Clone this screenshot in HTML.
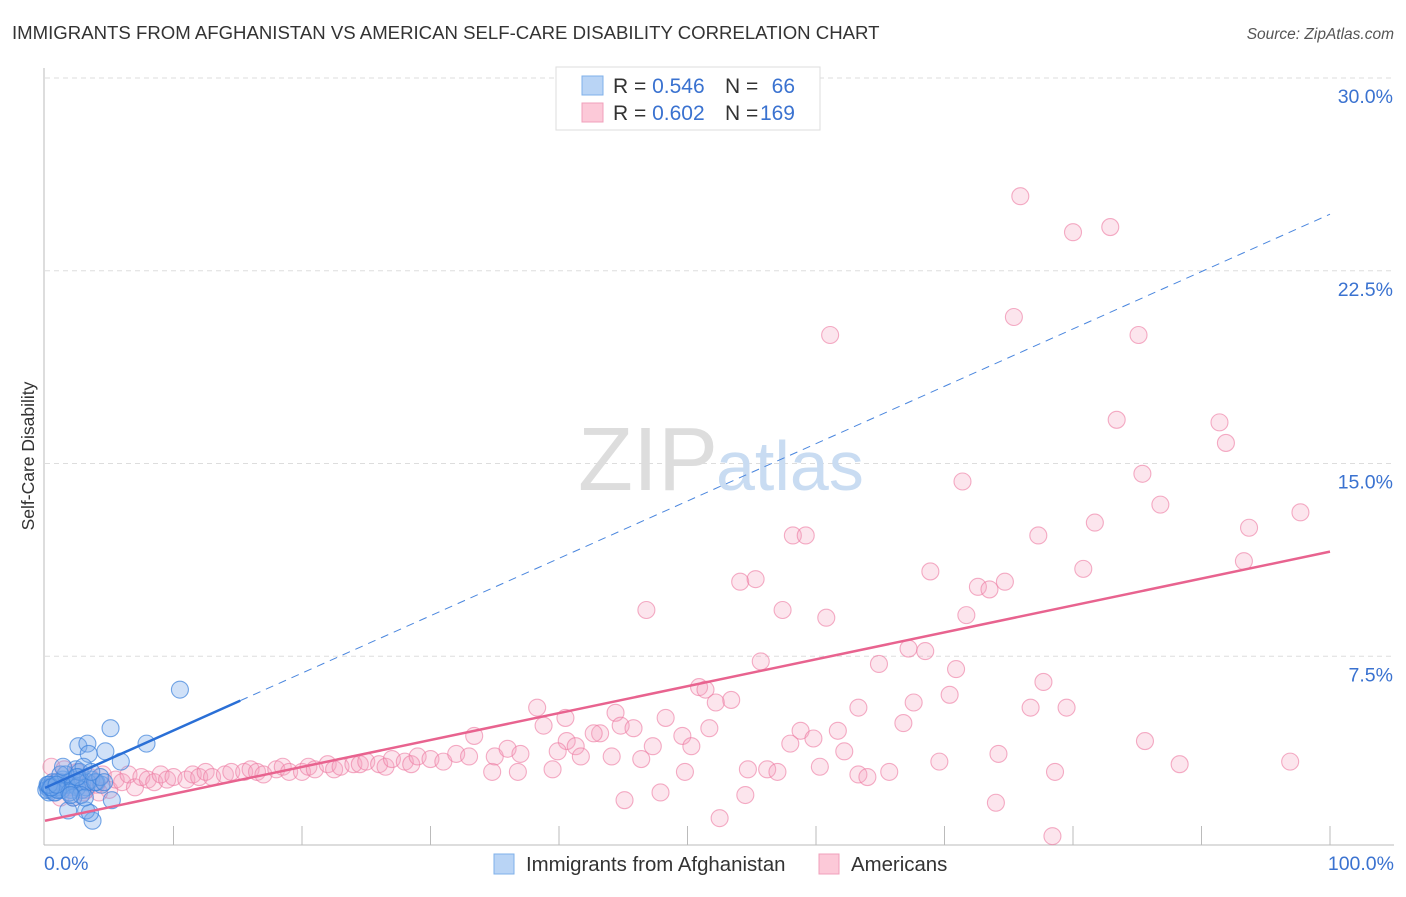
<!DOCTYPE html>
<html><head><meta charset="utf-8"><style>
body{margin:0;background:#fff;font-family:"Liberation Sans",sans-serif;}
svg text{font-family:"Liberation Sans",sans-serif;}
</style></head><body>
<svg id="chart" width="1406" height="892" xmlns="http://www.w3.org/2000/svg">
<text x="12" y="39" font-size="18.6" fill="#333">IMMIGRANTS FROM AFGHANISTAN VS AMERICAN SELF-CARE DISABILITY CORRELATION CHART</text>
<text x="1394" y="39" font-size="15.5" fill="#555" font-style="italic" text-anchor="end">Source: ZipAtlas.com</text>
<text transform="translate(34,456) rotate(-90)" font-size="17.5" fill="#333" text-anchor="middle">Self-Care Disability</text>
<g id="grid"></g>
<g id="axes"></g>
<text x="718" y="490" font-size="90" fill="#ddd" font-family="Liberation Serif" text-anchor="end">ZIP</text>
<text x="716" y="490" font-size="70" fill="#c9dcf2">atlas</text>
<g id="pink"></g>
<g id="blue"></g>
<g id="trends"></g>
<g>
<rect x="556" y="67" width="264" height="63" fill="#fff" stroke="#ddd"/>
<rect x="582" y="76" width="21" height="19" fill="#b9d4f5" stroke="#7fb0ea"/>
<rect x="582" y="103" width="21" height="19" fill="#fcc9d8" stroke="#f0a0bb"/>
<text x="613" y="93" font-size="21" fill="#333">R = <tspan fill="#3a72d0">0.546</tspan></text>
<text x="725" y="93" font-size="21" fill="#333">N =</text>
<text x="795" y="93" font-size="21" fill="#3a72d0" text-anchor="end">66</text>
<text x="613" y="120" font-size="21" fill="#333">R = <tspan fill="#3a72d0">0.602</tspan></text>
<text x="725" y="120" font-size="21" fill="#333">N =</text>
<text x="795" y="120" font-size="21" fill="#3a72d0" text-anchor="end">169</text>
</g>
<g>
<rect x="494" y="854" width="20" height="20" fill="#b9d4f5" stroke="#7fb0ea"/>
<text x="526" y="871" font-size="20.4" fill="#333">Immigrants from Afghanistan</text>
<rect x="819" y="854" width="20" height="20" fill="#fcc9d8" stroke="#f0a0bb"/>
<text x="851" y="871" font-size="20.4" fill="#333">Americans</text>
</g>
</svg>
<script>
const yTicks=[7.5,15,22.5,30];
const yTickLabels=["7.5%","15.0%","22.5%","30.0%"];
const xTickCount=10;
const pinkX=[75.9,80.0,82.9,61.1,75.4,85.1,83.4,91.4,91.9,85.4,71.4,86.8,97.7,81.7,93.7,77.3,58.2,59.2,93.3,68.9,80.8,54.1,55.3,72.6,73.5,74.7,46.8,57.4,60.8,71.7,55.7,67.2,68.5,64.9,70.9,50.9,51.4,77.7,70.4,53.4,52.2,67.6,63.3,76.7,79.5,38.3,44.4,40.5,48.3,66.8,38.8,44.8,51.7,45.8,58.8,61.7,43.2,42.7,33.4,59.8,40.6,49.6,85.6,58.0,47.3,50.3,41.3,39.9,62.2,74.2,44.1,41.7,46.4,69.6,88.3,96.9,60.3,54.7,56.2,57.0,63.3,64.0,65.7,49.8,78.6,39.5,36.8,34.8,45.1,47.9,54.5,74.0,52.5,78.4,
0.5,1.0,1.5,2.0,2.5,3.0,3.5,4.0,4.5,5.0,5.5,6.0,6.5,7.0,7.5,8.0,8.5,9.0,9.5,10.0,11.0,11.5,12.0,12.5,13.0,14.0,14.5,15.5,16.0,16.5,17.0,18.0,18.5,19.0,20.0,20.5,21.0,22.0,22.5,23.0,24.0,24.5,25.0,26.0,26.5,27.0,28.0,28.5,29.0,30.0,31.0,32.0,33.0,35.0,36.0,37.0,1.2,2.2,3.2,4.2];
const pinkY=[25.4,24.0,24.2,20.0,20.7,20.0,16.7,16.6,15.8,14.6,14.3,13.4,13.1,12.7,12.5,12.2,12.2,12.2,11.2,10.8,10.9,10.4,10.5,10.2,10.1,10.4,9.3,9.3,9.0,9.1,7.3,7.8,7.7,7.2,7.0,6.3,6.2,6.5,6.0,5.8,5.7,5.7,5.5,5.5,5.5,5.5,5.3,5.1,5.1,4.9,4.8,4.8,4.7,4.7,4.6,4.6,4.5,4.5,4.4,4.3,4.2,4.4,4.2,4.1,4.0,4.0,4.0,3.8,3.8,3.7,3.6,3.6,3.5,3.4,3.3,3.4,3.2,3.1,3.1,3.0,2.9,2.8,3.0,3.0,3.0,3.1,3.0,3.0,1.9,2.2,2.1,1.8,1.2,0.5,
3.2,2.6,3.1,2.4,3.0,2.2,2.8,2.5,2.9,2.3,2.7,2.6,2.9,2.4,2.8,2.7,2.6,2.9,2.7,2.8,2.7,2.9,2.8,3.0,2.8,2.9,3.0,3.0,3.1,3.0,2.9,3.1,3.2,3.0,3.0,3.2,3.1,3.3,3.1,3.2,3.3,3.3,3.4,3.3,3.2,3.5,3.4,3.3,3.6,3.5,3.4,3.7,3.6,3.6,3.9,3.7,2.0,2.0,2.3,2.2];
const blueX=[10.5,5.1,7.9,2.6,3.3,4.7,3.4,5.9,5.2,3.7,1.8,3.2,3.5,0.2,0.4,0.6,0.8,1.0,1.2,1.5,0.3,0.7,1.1,1.4,1.8,2.0,2.3,2.6,2.9,3.2,3.6,4.0,4.4,0.5,0.9,1.3,1.7,2.1,2.5,2.9,3.3,3.9,4.3,0.1,0.2,0.4,0.6,0.8,1.0,2.4,2.7,3.0,1.6,2.2,2.8,3.1,1.9,4.6,0.3,0.5,1.2,2.0,2.5,3.6,1.4,0.9];
const blueY=[6.2,4.7,4.1,4.0,4.1,3.8,3.7,3.4,1.9,1.1,1.5,1.5,1.4,2.4,2.3,2.5,2.4,2.3,2.6,2.5,2.2,2.2,2.4,2.7,2.6,2.3,2.5,2.8,2.6,2.4,2.7,2.6,2.5,2.4,2.6,2.3,2.5,2.7,2.4,2.3,2.6,2.6,2.8,2.3,2.5,2.4,2.6,2.2,2.3,3.1,3.0,3.2,2.9,2.0,2.1,2.0,2.2,2.6,2.5,2.4,2.9,2.1,2.8,3.0,3.2,2.5];
const pinkTrend=[1.1,11.57];
const blueTrend=[2.38,24.7];
const X=v=>45+v*12.85, Y=v=>849-v*25.7;
const NS="http://www.w3.org/2000/svg";
function mk(tag,attrs,parent){const e=document.createElementNS(NS,tag);for(const k in attrs)e.setAttribute(k,attrs[k]);parent.appendChild(e);return e;}
const grid=document.getElementById('grid'), axes=document.getElementById('axes');
yTicks.forEach((t,i)=>{
  const l=mk('line',{x1:45,x2:1394,y1:Y(t),y2:Y(t),stroke:'#ddd','stroke-dasharray':'5,4'},grid);
  
  
  const tx=mk('text',{x:1393,y:Y(t)+25,'font-size':19.5,fill:'#3a72d0','text-anchor':'end'},grid);
  tx.textContent=yTickLabels[i];
  
  
});
mk('line',{x1:44,x2:44,y1:68,y2:845,stroke:'#bbb'},axes);
mk('line',{x1:44,x2:1394,y1:845,y2:845,stroke:'#bbb'},axes);
for(let i=1;i<=xTickCount;i++){
  const t=mk('line',{x1:X(i*10),x2:X(i*10),y1:826,y2:845,stroke:'#bbb'},axes);
  
  
}
const xl0=mk('text',{x:44,y:870,'font-size':19.5,fill:'#3a72d0'},axes);xl0.textContent='0.0%';


const xl1=mk('text',{x:1394,y:870,'font-size':19.5,fill:'#3a72d0','text-anchor':'end'},axes);xl1.textContent='100.0%';


const pg=document.getElementById('pink');
pinkX.forEach((x,i)=>{
  const c=mk('circle',{cx:X(x),cy:Y(pinkY[i]),r:8.5,fill:'rgba(244,160,190,0.28)',stroke:'rgba(236,120,160,0.6)','stroke-width':1.1},pg);
  
  
});
const bg=document.getElementById('blue');
blueX.forEach((x,i)=>{
  const c=mk('circle',{cx:X(x),cy:Y(blueY[i]),r:8.5,fill:'rgba(120,170,235,0.35)',stroke:'rgba(60,130,220,0.7)','stroke-width':1.1},bg);
  
  
});
const tg=document.getElementById('trends');
const pt=mk('line',{x1:X(0),y1:Y(pinkTrend[0]),x2:X(100),y2:Y(pinkTrend[1]),stroke:'#e8638f','stroke-width':2.5},tg);


const bAt=v=>blueTrend[0]+(blueTrend[1]-blueTrend[0])*v/100;
const bt=mk('line',{x1:X(0),y1:Y(bAt(0)),x2:X(15.2),y2:Y(bAt(15.2)),stroke:'#2a6fd6','stroke-width':2.5},tg);


const bd=mk('line',{x1:X(15.2),y1:Y(bAt(15.2)),x2:X(100),y2:Y(bAt(100)),stroke:'#4a86de','stroke-width':1,'stroke-dasharray':'8,6'},tg);


</script>
</body></html>
